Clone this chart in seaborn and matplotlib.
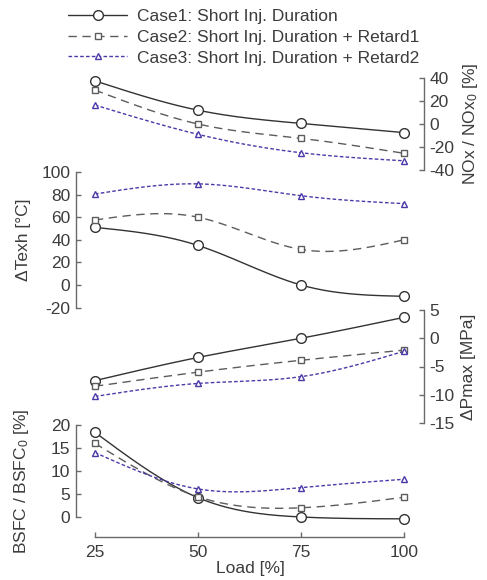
import numpy as np
import pandas as pd
import matplotlib
matplotlib.use("Agg")
import matplotlib.pyplot as plt
from matplotlib.lines import Line2D
import seaborn as sns

# ---------------- data ----------------
load = [25, 50, 75, 100]
case_names = ["Case1: Short Inj. Duration",
              "Case2: Short Inj. Duration + Retard1",
              "Case3: Short Inj. Duration + Retard2"]

nox_case1 = [37.5, 12.0, 0.5, -7.5]
nox_case2 = [29.5, 0.0, -12.5, -25.5]
nox_case3 = [16.5, -9.0, -25.0, -32.0]

texh_case1 = [51.0, 35.0, 0.0, -10.0]
texh_case2 = [57.5, 60.0, 31.5, 40.0]
texh_case3 = [80.5, 89.5, 79.0, 72.0]

pmax_case1 = [-7.5, -3.4, 0.0, 3.7]
pmax_case2 = [-8.5, -6.0, -3.9, -2.1]
pmax_case3 = [-10.3, -8.0, -6.8, -2.3]

bsfc_case1 = [18.4, 4.2, 0.0, -0.4]
bsfc_case2 = [16.0, 4.4, 2.0, 4.3]
bsfc_case3 = [14.0, 6.1, 6.4, 8.2]

nox_ticks = [-40, -20, 0, 20, 40]
texh_ticks = [-20, 0, 20, 40, 60, 80, 100]
pmax_ticks = [-15, -10, -5, 0, 5]
bsfc_ticks = [0, 5, 10, 15, 20]

# ---------------- style ----------------
sns.set_theme(style="white")
plt.rcParams["font.family"] = ["Liberation Sans", "DejaVu Sans"]
plt.rcParams["mathtext.fontset"] = "custom"
plt.rcParams["mathtext.rm"] = "Liberation Sans"
plt.rcParams["mathtext.it"] = "Liberation Sans"

TXT = "#3c3c3c"
SPN = "#6a6a6a"
FS = 12.5

styles = [
    dict(color="#333333", dashes=None, marker="o", ms=7.0),
    dict(color="#5c5c5c", dashes=(6, 4), marker="s", ms=4.2),
    dict(color="#4a3aa8", dashes=(2.6, 1.6), marker="^", ms=4.8),
]

W, H = 487, 580
fig = plt.figure(figsize=(W / 100, H / 100), dpi=100)

def px_axes(top, bottom):
    left, right = 76, 424
    return fig.add_axes([left / W, 1 - bottom / H, (right - left) / W, (bottom - top) / H])

XLIM = (20.4, 104.85)

def natural_spline(x, y, n=200):
    x = np.asarray(x, float); y = np.asarray(y, float)
    k = len(x); h = np.diff(x)
    A = np.zeros((k, k)); b = np.zeros(k)
    A[0, 0] = A[-1, -1] = 1
    for i in range(1, k - 1):
        A[i, i - 1] = h[i - 1]; A[i, i] = 2 * (h[i - 1] + h[i]); A[i, i + 1] = h[i]
        b[i] = 6 * ((y[i + 1] - y[i]) / h[i] - (y[i] - y[i - 1]) / h[i - 1])
    M = np.linalg.solve(A, b)
    xs = np.linspace(x[0], x[-1], n)
    idx = np.clip(np.searchsorted(x, xs) - 1, 0, k - 2)
    x0, x1 = x[idx], x[idx + 1]; hh = x1 - x0
    a = (x1 - xs) / hh; c = (xs - x0) / hh
    ys = (a * y[idx] + c * y[idx + 1]
          + ((a ** 3 - a) * M[idx] + (c ** 3 - c) * M[idx + 1]) * hh ** 2 / 6)
    return xs, ys

def draw(ax, series):
    for vals, st in zip(series, styles):
        xs, ys = natural_spline(load, vals)
        curve = pd.DataFrame({"x": xs, "y": ys})
        kw = dict(color=st["color"], lw=1.0, clip_on=False)
        if st["dashes"] is not None:
            kw["dashes"] = st["dashes"]
        sns.lineplot(data=curve, x="x", y="y", ax=ax, **kw)
        ax.plot(load, vals, linestyle="none", marker=st["marker"], ms=st["ms"],
                mfc="white", mec=st["color"], mew=1.0, clip_on=False, zorder=5)

def style_axis(ax, side, ylim, ticks, label, labx, bottom=False):
    ax.set_facecolor("none")
    ax.set_xlim(*XLIM)
    ax.set_ylim(*ylim)
    for s in ["top", "left", "right", "bottom"]:
        ax.spines[s].set_visible(False)
    sp = ax.spines[side]
    sp.set_visible(True)
    sp.set_color(SPN)
    sp.set_linewidth(1.0)
    sp.set_bounds(ticks[0], ticks[-1])
    ax.set_yticks(ticks)
    ax.set_yticklabels([str(t) for t in ticks])
    if side == "right":
        ax.yaxis.tick_right()
        ax.yaxis.set_label_position("right")
    ax.tick_params(axis="y", direction="in", length=3.5, width=1.0, color=SPN,
                   labelsize=FS, labelcolor=TXT, pad=4,
                   left=(side == "left"), right=(side == "right"),
                   labelleft=(side == "left"), labelright=(side == "right"))
    ax.set_ylabel(label, fontsize=FS, color=TXT)
    ax.yaxis.set_label_coords(labx, 0.5)
    if not bottom:
        ax.set_xticks([])
        ax.set_xlabel("")

RX = 1.105
LX = -0.128

# NOx (right)
ax1 = px_axes(78, 170)
draw(ax1, [nox_case1, nox_case2, nox_case3])
style_axis(ax1, "right", (-40, 40), nox_ticks, "NOx / NOx$_0$ [%]", RX)

# Texh (left)
ax2 = px_axes(172, 307.6)
draw(ax2, [texh_case1, texh_case2, texh_case3])
style_axis(ax2, "left", (-20, 100), texh_ticks, "ΔTexh [°C]", LX)

# Pmax (right)
ax3 = px_axes(310, 423)
draw(ax3, [pmax_case1, pmax_case2, pmax_case3])
style_axis(ax3, "right", (-15, 5), pmax_ticks, "ΔPmax [MPa]", RX)

# BSFC (left + bottom)
ax4 = px_axes(425, 537)
draw(ax4, [bsfc_case1, bsfc_case2, bsfc_case3])
style_axis(ax4, "left", (-4.35, 20), bsfc_ticks, "BSFC / BSFC$_0$ [%]", LX, bottom=True)
ax4.spines["bottom"].set_visible(True)
ax4.spines["bottom"].set_color(SPN)
ax4.spines["bottom"].set_linewidth(1.0)
ax4.spines["bottom"].set_bounds(load[0], load[-1])
ax4.set_xticks(load)
ax4.set_xticklabels([str(v) for v in load])
ax4.tick_params(axis="x", direction="in", length=3.5, width=1.0, color=SPN,
                labelsize=FS, labelcolor=TXT, pad=6, bottom=True)
ax4.set_xlabel("Load [%]", fontsize=FS, color=TXT, labelpad=0.5)

# legend
handles = []
for st in styles:
    kw = dict(color=st["color"], lw=1.0, marker=st["marker"], ms=st["ms"],
              mfc="white", mec=st["color"], mew=1.0)
    if st["dashes"] is not None:
        kw["dashes"] = st["dashes"]
    handles.append(Line2D([], [], **kw))
leg = fig.legend(handles, case_names, loc="upper left",
                 bbox_to_anchor=(68 / W, 1 - 9 / H), frameon=False,
                 fontsize=FS, handlelength=3.4, handletextpad=0.55,
                 labelspacing=0.32, borderpad=0, borderaxespad=0)
for t in leg.get_texts():
    t.set_color(TXT)

fig.savefig("out.png", dpi=100)
